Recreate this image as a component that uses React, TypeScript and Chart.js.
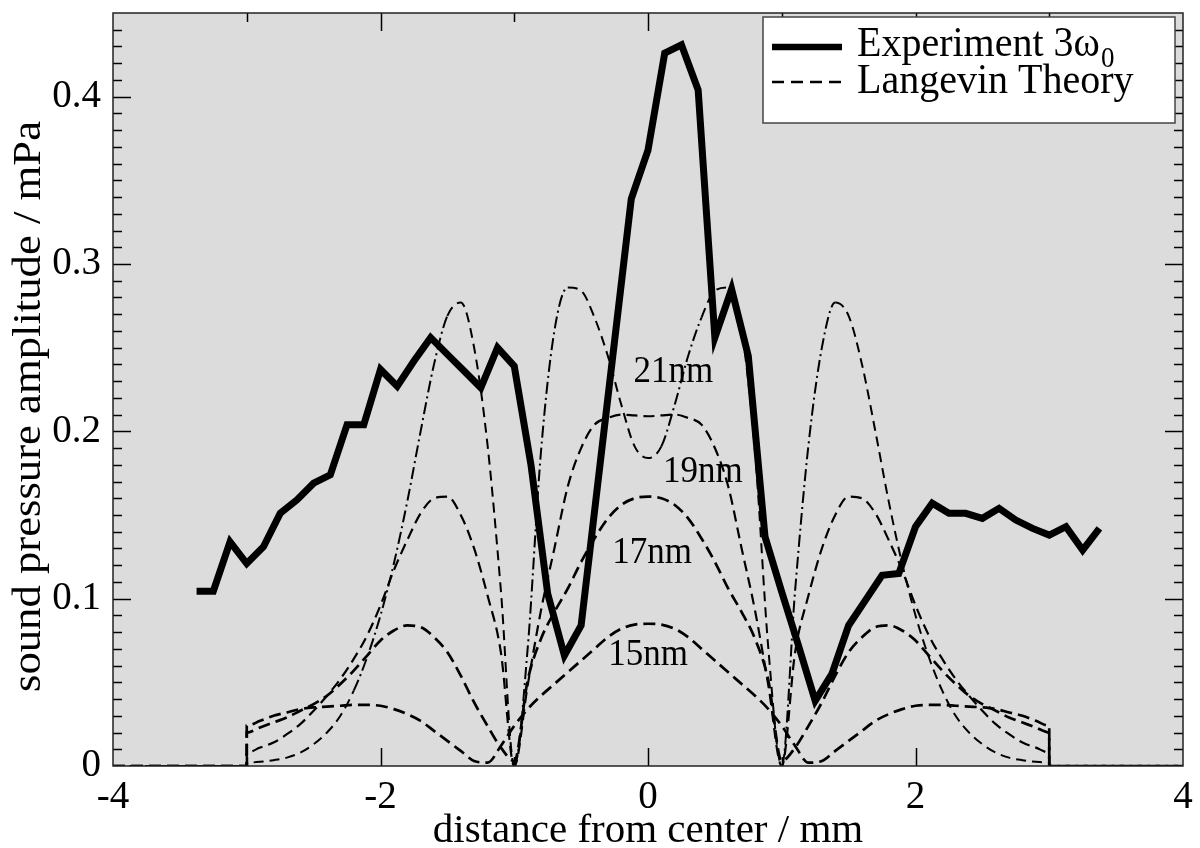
import { useEffect, useRef } from 'react';
import { Chart, registerables } from 'chart.js';

Chart.register(...registerables);

// ---------- data ----------
const X_MIN = -4;
const X_MAX = 4;
const Y_MIN = 0;
const Y_MAX = 0.45;
const X_TICK_LABELS = [-4, -2, 0, 2, 4];
const Y_TICK_LABELS = [0, 0.1, 0.2, 0.3, 0.4];

const EXP_X = [
  -3.375, -3.25, -3.125, -3.0, -2.875, -2.75, -2.625, -2.5, -2.375, -2.25, -2.125,
  -2.0, -1.875, -1.75, -1.625, -1.5, -1.375, -1.25, -1.125, -1.0, -0.875, -0.75,
  -0.625, -0.5, -0.375, -0.25, -0.125, 0, 0.125, 0.25, 0.375, 0.5, 0.625, 0.75,
  0.875, 1.0, 1.125, 1.25, 1.375, 1.5, 1.625, 1.75, 1.875, 2.0, 2.125, 2.25,
  2.375, 2.5, 2.625, 2.75, 2.875, 3.0, 3.125, 3.25, 3.375,
];
const EXP_Y = [
  0.1045, 0.1045, 0.134, 0.121, 0.131, 0.151, 0.159, 0.169, 0.174, 0.204, 0.204,
  0.237, 0.227, 0.242, 0.256, 0.246, 0.236, 0.226, 0.25, 0.239, 0.18, 0.103,
  0.066, 0.084, 0.169, 0.254, 0.339, 0.368, 0.426, 0.431, 0.404, 0.256, 0.285, 0.245,
  0.137, 0.104, 0.072, 0.039, 0.055, 0.084, 0.099, 0.114, 0.115, 0.143, 0.157, 0.151,
  0.151, 0.148, 0.154, 0.147, 0.142, 0.138, 0.143, 0.129, 0.142,
];

const THEORY_X = [
  -3.0, -2.9, -2.8, -2.7, -2.6, -2.5, -2.4, -2.3, -2.2, -2.1, -2.0, -1.9, -1.8, -1.7,
  -1.6, -1.5, -1.4, -1.3, -1.2, -1.1, -1.0, -0.9, -0.8, -0.7, -0.6, -0.5, -0.4, -0.3,
  -0.2, -0.1, 0, 0.1, 0.2, 0.3, 0.4, 0.5, 0.6, 0.7, 0.8, 0.9, 1.0, 1.1, 1.2, 1.3,
  1.4, 1.5, 1.6, 1.7, 1.8, 1.9, 2.0, 2.1, 2.2, 2.3, 2.4, 2.5, 2.6, 2.7, 2.8, 2.9, 3.0,
];
const T21 = [
  0.002, 0.0025, 0.0035, 0.005, 0.008, 0.013, 0.02, 0.03, 0.045, 0.065, 0.09, 0.121,
  0.158, 0.2, 0.24, 0.269, 0.277, 0.25, 0.192, 0.105, 0, 0.07, 0.188, 0.26, 0.286,
  0.284, 0.268, 0.245, 0.216, 0.191, 0.184, 0.191, 0.216, 0.245, 0.268, 0.284, 0.286,
  0.26, 0.188, 0.07, 0, 0.105, 0.192, 0.25, 0.277, 0.269, 0.24, 0.2, 0.158, 0.121,
  0.09, 0.065, 0.045, 0.03, 0.02, 0.013, 0.008, 0.005, 0.0035, 0.0025, 0.002,
];
const T19 = [
  0.008, 0.011, 0.014, 0.019, 0.025, 0.033, 0.042, 0.052, 0.064, 0.078, 0.096, 0.117,
  0.135, 0.151, 0.16, 0.161, 0.15, 0.13, 0.102, 0.068, 0, 0.048, 0.093, 0.13, 0.167,
  0.19, 0.204, 0.208, 0.21, 0.2095, 0.209, 0.2095, 0.21, 0.208, 0.204, 0.19, 0.167,
  0.13, 0.093, 0.048, 0, 0.068, 0.102, 0.13, 0.15, 0.161, 0.16, 0.151, 0.135, 0.117,
  0.096, 0.078, 0.064, 0.052, 0.042, 0.033, 0.025, 0.019, 0.014, 0.011, 0.008,
];
const T17 = [
  0.02, 0.023, 0.026, 0.029, 0.033, 0.037, 0.042, 0.049, 0.057, 0.066, 0.075, 0.081,
  0.084, 0.083, 0.077, 0.068, 0.054, 0.038, 0.024, 0.011, 0.003, 0.051, 0.076, 0.092,
  0.106, 0.122, 0.136, 0.148, 0.156, 0.16, 0.161, 0.16, 0.156, 0.148, 0.136, 0.122,
  0.106, 0.092, 0.076, 0.051, 0.003, 0.011, 0.024, 0.038, 0.054, 0.068, 0.077, 0.083,
  0.084, 0.081, 0.075, 0.066, 0.057, 0.049, 0.042, 0.037, 0.033, 0.029, 0.026, 0.023, 0.02,
];
const T15 = [
  0.024, 0.027, 0.03, 0.032, 0.034, 0.035, 0.0355, 0.036, 0.0365, 0.0365, 0.036, 0.034,
  0.031, 0.027, 0.021, 0.015, 0.009, 0.003, 0.002, 0.012, 0.024, 0.034, 0.042, 0.049,
  0.056, 0.063, 0.07, 0.077, 0.082, 0.0845, 0.085, 0.0845, 0.082, 0.077, 0.07, 0.063,
  0.056, 0.049, 0.042, 0.034, 0.024, 0.012, 0.002, 0.003, 0.009, 0.015, 0.021, 0.027,
  0.031, 0.034, 0.036, 0.0365, 0.0365, 0.036, 0.0355, 0.035, 0.034, 0.032, 0.03, 0.027, 0.024,
];

const CURVE_LABELS = ['21nm', '19nm', '17nm', '15nm'];
const CURVE_LABEL_X = [0.19, 0.41, 0.03, 0.0];
const CURVE_LABEL_Y = [0.2355, 0.1755, 0.127, 0.066];

const LEGEND_EXP = 'Experiment 3\u03c9';
const LEGEND_EXP_SUB = '0';
const LEGEND_THEORY = 'Langevin Theory';
const X_TITLE = 'distance from center / mm';
const Y_TITLE = 'sound pressure amplitude / mPa';

// ---------- styling ----------
const FONT = '"Liberation Serif", "Times New Roman", Times, serif';
const PLOT_BG = '#dcdcdc';

function theoryPoints(vals: number[]) {
  const pts: { x: number; y: number }[] = [];
  pts.push({ x: X_MIN, y: 0 });
  pts.push({ x: THEORY_X[0], y: 0 });
  THEORY_X.forEach((x, i) => pts.push({ x, y: vals[i] }));
  pts.push({ x: THEORY_X[THEORY_X.length - 1], y: 0 });
  pts.push({ x: X_MAX, y: 0 });
  return pts;
}

const decorPlugin = {
  id: 'decor',
  beforeDraw(chart: any) {
    const { ctx, chartArea: a, width, height } = chart;
    ctx.save();
    ctx.fillStyle = '#ffffff';
    ctx.fillRect(0, 0, width, height);
    ctx.fillStyle = PLOT_BG;
    ctx.fillRect(a.left, a.top, a.right - a.left, a.bottom - a.top);
    ctx.restore();
  },
  afterDatasetsDraw(chart: any) {
    const { ctx, chartArea: a } = chart;
    const xs = chart.scales.x;
    const ys = chart.scales.y;
    ctx.save();

    // curve labels
    ctx.fillStyle = '#000';
    ctx.font = `35px ${FONT}`;
    ctx.textAlign = 'center';
    ctx.textBaseline = 'middle';
    CURVE_LABELS.forEach((t, i) => {
      ctx.save();
      ctx.translate(xs.getPixelForValue(CURVE_LABEL_X[i]), ys.getPixelForValue(CURVE_LABEL_Y[i]));
      ctx.scale(1, 1.08);
      ctx.fillText(t, 0, 0);
      ctx.restore();
    });

    // inner ticks
    ctx.strokeStyle = '#000';
    ctx.lineWidth = 1.5;
    ctx.beginPath();
    for (let k = -3; k <= 3; k++) {
      const px = Math.round(xs.getPixelForValue(k)) + 0.5;
      const len = k % 2 === 0 ? 18 : 9;
      ctx.moveTo(px, a.bottom);
      ctx.lineTo(px, a.bottom - len);
      ctx.moveTo(px, a.top);
      ctx.lineTo(px, a.top + len);
    }
    for (let k = 1; k <= 44; k++) {
      const py = Math.round(ys.getPixelForValue(k / 100)) + 0.5;
      const len = k % 10 === 0 ? 18 : 9;
      ctx.moveTo(a.left, py);
      ctx.lineTo(a.left + len, py);
      ctx.moveTo(a.right, py);
      ctx.lineTo(a.right - len, py);
    }
    ctx.stroke();

    // frame
    ctx.lineWidth = 1.5;
    ctx.strokeStyle = '#222';
    ctx.strokeRect(a.left, a.top, a.right - a.left, a.bottom - a.top);

    // legend box
    const bx = a.right - 420;
    const by = a.top + 4;
    const bw = 412;
    const bh = 106;
    ctx.fillStyle = '#fff';
    ctx.fillRect(bx, by, bw, bh);
    ctx.strokeStyle = '#444';
    ctx.lineWidth = 1.5;
    ctx.strokeRect(bx, by, bw, bh);

    ctx.strokeStyle = '#000';
    ctx.lineWidth = 6.5;
    ctx.beginPath();
    ctx.moveTo(bx + 9, by + 30);
    ctx.lineTo(bx + 79, by + 30);
    ctx.stroke();

    ctx.lineWidth = 2.4;
    ctx.setLineDash([12, 7]);
    ctx.beginPath();
    ctx.moveTo(bx + 9, by + 65);
    ctx.lineTo(bx + 79, by + 65);
    ctx.stroke();
    ctx.setLineDash([]);

    ctx.fillStyle = '#000';
    ctx.textAlign = 'left';
    ctx.textBaseline = 'alphabetic';
    const drawTall = (t: string, x: number, y: number, size: number) => {
      ctx.save();
      ctx.translate(x, y);
      ctx.scale(1, 1.08);
      ctx.font = `${size}px ${FONT}`;
      ctx.fillText(t, 0, 0);
      ctx.restore();
    };
    drawTall(LEGEND_EXP, bx + 94, by + 39, 40);
    ctx.font = `40px ${FONT}`;
    const w = ctx.measureText(LEGEND_EXP).width;
    drawTall(LEGEND_EXP_SUB, bx + 94 + w + 1, by + 50, 27);
    drawTall(LEGEND_THEORY, bx + 94, by + 76, 40);

    // y title
    ctx.save();
    ctx.translate(29, (a.top + a.bottom) / 2 + 17);
    ctx.rotate(-Math.PI / 2);
    ctx.scale(1.09, 1);
    ctx.textAlign = 'center';
    ctx.textBaseline = 'middle';
    ctx.font = `41px ${FONT}`;
    ctx.fillText(Y_TITLE, 0, 0);
    ctx.restore();

    ctx.restore();
  },
};

export default function App() {
  const ref = useRef<HTMLCanvasElement | null>(null);

  useEffect(() => {
    document.body.style.margin = '0';
    if (!ref.current) return;
    const theoryStyle = (w: number, dash: number[]) => ({
      borderColor: '#000',
      borderWidth: w,
      borderDash: dash,
      pointRadius: 0,
      fill: false,
      cubicInterpolationMode: 'monotone' as const,
    });
    const chart = new Chart(ref.current, {
      type: 'line',
      data: {
        datasets: [
          {
            label: 'Experiment',
            data: EXP_X.map((x, i) => ({ x, y: EXP_Y[i] })),
            borderColor: '#000',
            borderWidth: 7,
            pointRadius: 0,
            tension: 0,
            fill: false,
            borderJoinStyle: 'miter',
          },
          {
            label: '21nm',
            data: theoryPoints(T21),
            ...theoryStyle(2.0, [10, 6]),
            segment: {
              borderDash: (c: any) =>
                c.p1.parsed.y - c.p0.parsed.y > 0.02 ? [12, 4, 2, 4] : undefined,
            },
          },
          { label: '19nm', data: theoryPoints(T19), ...theoryStyle(2.2, [11, 6]) },
          { label: '17nm', data: theoryPoints(T17), ...theoryStyle(2.7, [12, 6]) },
          { label: '15nm', data: theoryPoints(T15), ...theoryStyle(2.7, [12, 6]) },
        ],
      },
      options: {
        responsive: false,
        animation: false,
        events: [],
        layout: { padding: { top: 13, right: 17, left: 0, bottom: 0 } },
        plugins: { legend: { display: false }, tooltip: { enabled: false } },
        scales: {
          x: {
            type: 'linear',
            min: X_MIN,
            max: X_MAX,
            grid: { display: false, drawTicks: false },
            border: { display: false },
            afterBuildTicks: (s: any) => {
              s.ticks = X_TICK_LABELS.map((v) => ({ value: v }));
            },
            ticks: {
              font: { family: FONT, size: 39 },
              color: '#000',
              padding: 8,
              maxRotation: 0,
              autoSkip: false,
              callback: (v: any) => String(v),
            },
            title: {
              display: true,
              text: X_TITLE,
              color: '#000',
              font: { family: FONT, size: 41, lineHeight: 0.8 },
              padding: { top: 0, bottom: 0 },
            },
            afterFit: (s: any) => {
              s.height = 82;
              s.paddingLeft = 0;
              s.paddingRight = 0;
            },
          },
          y: {
            type: 'linear',
            min: Y_MIN,
            max: Y_MAX,
            grid: { display: false, drawTicks: false },
            border: { display: false },
            afterBuildTicks: (s: any) => {
              s.ticks = Y_TICK_LABELS.map((v) => ({ value: v }));
            },
            ticks: {
              font: { family: FONT, size: 39 },
              color: '#000',
              padding: 12,
              autoSkip: false,
              callback: (v: any) => (Number(v) === 0 ? '0' : Number(v).toFixed(1)),
            },
            afterFit: (s: any) => {
              s.width = 113;
              s.paddingTop = 0;
              s.paddingBottom = 0;
            },
          },
        },
      },
      plugins: [decorPlugin],
    });
    return () => chart.destroy();
  }, []);

  return (
    <div style={{ width: 1200, height: 848 }}>
      <canvas ref={ref} width={1200} height={848} />
    </div>
  );
}
